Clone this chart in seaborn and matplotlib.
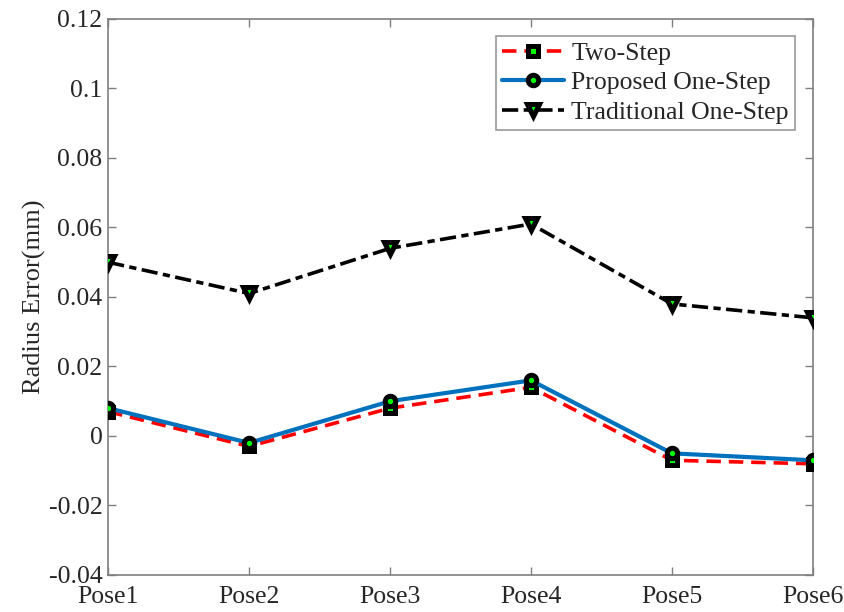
import matplotlib
matplotlib.use("Agg")
import matplotlib.pyplot as plt
import seaborn as sns
import pandas as pd

poses = ["Pose1", "Pose2", "Pose3", "Pose4", "Pose5", "Pose6"]
two_step = [0.007, -0.003, 0.008, 0.014, -0.007, -0.008]
proposed = [0.008, -0.002, 0.010, 0.016, -0.005, -0.007]
traditional = [0.050, 0.041, 0.054, 0.061, 0.038, 0.034]
y_ticks = [-0.04, -0.02, 0, 0.02, 0.04, 0.06, 0.08, 0.1, 0.12]
y_tick_labels = ["-0.04", "-0.02", "0", "0.02", "0.04", "0.06", "0.08", "0.1", "0.12"]

sns.set_style("white")
plt.rcParams["font.family"] = ["Liberation Serif", "DejaVu Serif"]

fig = plt.figure(figsize=(8.45, 6.12), dpi=100)
ax = fig.add_axes([0.128, 0.0605, 0.834, 0.9085])

df = pd.DataFrame({"pose": poses, "two": two_step, "prop": proposed, "trad": traditional})
df["x"] = range(len(poses))

green = "#00ff00"
ms, mew = 7.5, 3.6
sns.lineplot(data=df, x="x", y="two", ax=ax, color="#ff0000", lw=2.6,
             marker="s", markersize=ms, markerfacecolor=green, markeredgecolor="black",
             markeredgewidth=mew, label="Two-Step", zorder=3)
ax.lines[-1].set_dashes([4, 2.2])
sns.lineplot(data=df, x="x", y="prop", ax=ax, color="#0072BD", lw=3,
             marker="o", markersize=ms, markerfacecolor=green, markeredgecolor="black",
             markeredgewidth=mew, label="Proposed One-Step", zorder=4)
sns.lineplot(data=df, x="x", y="trad", ax=ax, color="black", lw=2.6,
             marker="v", markersize=ms + 1, markerfacecolor=green, markeredgecolor="black",
             markeredgewidth=mew, label="Traditional One-Step", zorder=3)
ax.lines[-1].set_dashes([4.5, 1.5, 2, 1.5])

ax.set_xlim(0, 5)
ax.set_ylim(-0.04, 0.12)
ax.set_xticks(range(len(poses)))
ax.set_xticklabels(poses)
ax.set_yticks(y_ticks)
ax.set_yticklabels(y_tick_labels)
ax.set_xlabel("")
ax.set_ylabel("Radius Error(mm)", fontsize=19, color="#262626", labelpad=2)

for s in ax.spines.values():
    s.set_visible(True)
    s.set_color("#7f7f7f")
    s.set_linewidth(1.2)
ax.tick_params(axis="both", which="both", direction="in", length=6, width=1.0,
               color="#7f7f7f", labelsize=18.5, labelcolor="#262626",
               top=True, right=True, bottom=True, left=True)
ax.tick_params(axis="x", pad=8)
ax.tick_params(axis="y", pad=4)

leg = ax.legend(loc="upper right", bbox_to_anchor=(0.975, 0.97), fontsize=18.5,
                frameon=True, fancybox=False, handlelength=2.4, borderpad=0.25,
                labelspacing=0.25, handletextpad=0.3, borderaxespad=0)
leg.get_frame().set_edgecolor("#7f7f7f")
leg.get_frame().set_linewidth(1.2)
for t in leg.get_texts():
    t.set_color("#262626")

fig.savefig("out.png", dpi=100)
